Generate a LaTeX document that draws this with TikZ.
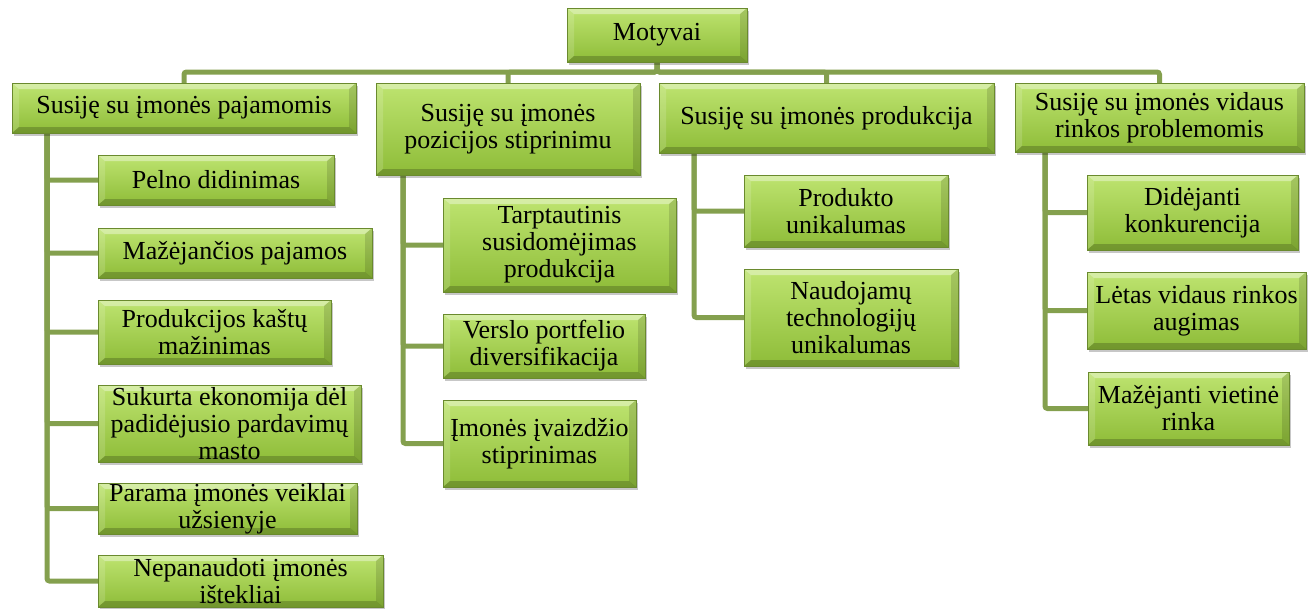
\documentclass[tikz,border=0pt]{standalone}
\usepackage{fontspec}
\setmainfont{Liberation Serif}
\usetikzlibrary{shadows}
\definecolor{conncol}{RGB}{132,160,78}
\definecolor{boxtop}{RGB}{190,228,112}
\definecolor{boxbot}{RGB}{142,188,56}
\definecolor{boxline}{RGB}{106,138,46}
\pgfdeclarelayer{bg}
\pgfsetlayers{bg,main}
\tikzset{
  box/.style={draw=boxline, line width=0.8pt, inner sep=0pt, outer sep=0pt,
    top color=boxtop, bottom color=boxbot, align=center,
    font=\fontsize{26}{27}\selectfont,
    drop shadow={shadow xshift=2pt, shadow yshift=-3pt, opacity=0.22, fill=black},
    path picture={
      \coordinate (pNW) at (path picture bounding box.north west);
      \coordinate (pNE) at (path picture bounding box.north east);
      \coordinate (pSW) at (path picture bounding box.south west);
      \coordinate (pSE) at (path picture bounding box.south east);
      \fill[white,opacity=0.38] (pNW) -- (pNE) -- ([shift={(-7pt,-6pt)}]pNE) -- ([shift={(7pt,-6pt)}]pNW) -- cycle;
      \fill[white,opacity=0.15] (pNW) -- ([shift={(7pt,-6pt)}]pNW) -- ([shift={(7pt,6pt)}]pSW) -- (pSW) -- cycle;
      \fill[black,opacity=0.13] (pNE) -- ([shift={(-7pt,-6pt)}]pNE) -- ([shift={(-7pt,6pt)}]pSE) -- (pSE) -- cycle;
      \fill[black,opacity=0.20] (pSW) -- (pSE) -- ([shift={(-7pt,6pt)}]pSE) -- ([shift={(7pt,6pt)}]pSW) -- cycle;
    }},
  conn/.style={draw=conncol, line width=5pt, rounded corners=2.5pt}
}
\begin{document}
\begin{tikzpicture}[x=1pt,y=-1pt]
\useasboundingbox (0,0) rectangle (1312,608);
% top
\node[box, minimum width=180pt, minimum height=54pt] (mot) at (657,35) {Motyvai};
% level 1
\node[box, minimum width=344pt, minimum height=50pt] (b1) at (184,108) {Susiję su įmonės pajamomis};
\node[box, minimum width=264pt, minimum height=92pt] (b2) at (508,129) {Susiję su įmonės\\pozicijos stiprinimu};
\node[box, minimum width=335pt, minimum height=70pt] (b3) at (826.5,118) {Susiję su įmonės produkcija};
\node[box, minimum width=289pt, minimum height=69pt] (b4) at (1159.5,117.5) {Susiję su įmonės vidaus\\rinkos problemomis};
% children of b1
\node[box, minimum width=236pt, minimum height=50pt] (c11) at (216,180) {Pelno didinimas};
\node[box, minimum width=274pt, minimum height=50pt] (c12) at (235,253) {Mažėjančios pajamos};
\node[box, minimum width=233pt, minimum height=64pt] (c13) at (214.5,332) {Produkcijos kaštų\\mažinimas};
\node[box, minimum width=263pt, minimum height=77pt] (c14) at (229.5,423.5) {Sukurta ekonomija dėl\\padidėjusio pardavimų\\masto};
\node[box, minimum width=259pt, minimum height=51pt] (c15) at (227.5,508.5) {Parama įmonės veiklai\\užsienyje};
\node[box, minimum width=285pt, minimum height=52pt] (c16) at (240.5,581) {Nepanaudoti įmonės\\ištekliai};
% children of b2
\node[box, minimum width=233pt, minimum height=94pt] (c21) at (559.5,245) {Tarptautinis\\susidomėjimas\\produkcija};
\node[box, minimum width=202pt, minimum height=64pt] (c22) at (544,346) {Verslo portfelio\\diversifikacija};
\node[box, minimum width=193pt, minimum height=87pt] (c23) at (539.5,443.5) {Įmonės įvaizdžio\\stiprinimas};
% children of b3
\node[box, minimum width=204pt, minimum height=72pt] (c31) at (846,211) {Produkto\\unikalumas};
\node[box, minimum width=214pt, minimum height=97pt] (c32) at (851,317.5) {Naudojamų\\technologijų\\unikalumas};
% children of b4
\node[box, minimum width=211pt, minimum height=75pt] (c41) at (1192.5,212.5) {Didėjanti\\konkurencija};
\node[box, minimum width=219pt, minimum height=77pt] (c42) at (1196.5,310.5) {Lėtas vidaus rinkos\\augimas};
\node[box, minimum width=201pt, minimum height=73pt] (c43) at (1188.5,408.5) {Mažėjanti vietinė\\rinka};
% connectors
\begin{pgfonlayer}{bg}
\foreach \b in {b1,b2,b3,b4} \draw[conn] (mot.south) -- ++(0,10) -| (\b.north);
\foreach \c in {c11,c12,c13,c14,c15,c16} \draw[conn] ([xshift=35pt]b1.south west) |- (\c.west);
\foreach \c in {c21,c22,c23} \draw[conn] ([xshift=27pt]b2.south west) |- (\c.west);
\foreach \c in {c31,c32} \draw[conn] ([xshift=35pt]b3.south west) |- (\c.west);
\foreach \c in {c41,c42,c43} \draw[conn] ([xshift=30pt]b4.south west) |- (\c.west);
\end{pgfonlayer}
\end{tikzpicture}
\end{document}
